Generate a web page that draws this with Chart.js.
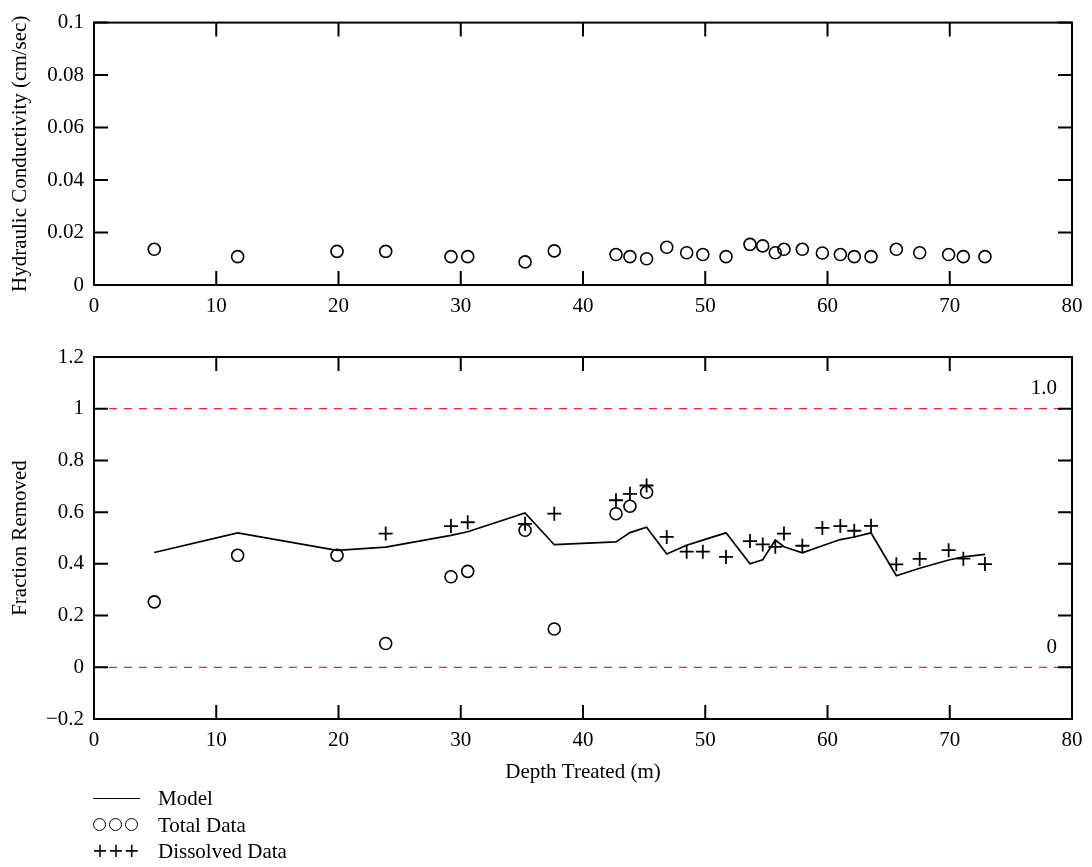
<!DOCTYPE html>
<html>
<head>
<meta charset="utf-8">
<script src="https://cdn.jsdelivr.net/npm/chart.js@4.4.1/dist/chart.umd.min.js"></script>
<style>
  body { margin:0; background:#fff; }
  #wrap { position:relative; width:1092px; height:867px; font-family:"Liberation Serif", serif; }
  canvas { position:absolute; left:0; }
  #cTop { top:0; }
  #cBot { top:330px; }
  #legend { position:absolute; left:93px; top:785px; font-size:21px; line-height:26.5px; color:#000; }
  .row { display:flex; align-items:center; height:26.5px; }
  .sym { width:65px; position:relative; height:26.5px; }
  .line { position:absolute; left:0; top:13px; width:47px; border-top:1.6px solid #000; }
  .circ { position:absolute; top:6px; width:11px; height:11px; border:1.6px solid #000; border-radius:50%; }
  .plus { position:absolute; left:-1px; top:-1px; font-family:"DejaVu Sans", sans-serif; font-size:19px; letter-spacing:0px; }
</style>
</head>
<body>
<div id="wrap">
  <canvas id="cTop" width="1092" height="330"></canvas>
  <canvas id="cBot" width="1092" height="460"></canvas>
  <div id="legend">
    <div class="row"><div class="sym"><div class="line"></div></div><span>Model</span></div>
    <div class="row"><div class="sym">
      <div class="circ" style="left:0px"></div><div class="circ" style="left:16px"></div><div class="circ" style="left:32px"></div>
    </div><span>Total Data</span></div>
    <div class="row"><div class="sym"><span class="plus">+++</span></div><span>Dissolved Data</span></div>
  </div>
</div>
<script>
// ===============================
// DADOS
// ===============================
const depth = [4.93, 11.75, 19.88, 23.86, 29.2, 30.57, 35.26, 37.65, 42.7, 43.84, 45.2,
  46.85, 48.48, 49.8, 51.7, 53.66, 54.7, 55.73, 56.44, 57.94, 59.58, 61.05, 62.19, 63.56,
  65.63, 67.54, 69.91, 71.11, 72.88];

const hydCond = [0.0136, 0.0108, 0.0128, 0.0128, 0.0108, 0.0108, 0.0088, 0.0130, 0.0116, 0.0108, 0.0100,
  0.0144, 0.0123, 0.0116, 0.0108, 0.0155, 0.0149, 0.0123, 0.0136, 0.0136, 0.0122, 0.0116, 0.0108, 0.0108,
  0.0136, 0.0123, 0.0116, 0.0108, 0.0108];

const model = [0.444, 0.520, 0.452, 0.465, 0.510, 0.524, 0.597, 0.474, 0.485, 0.521, 0.542,
  0.438, 0.472, 0.492, 0.520, 0.400, 0.416, 0.492, 0.466, 0.443, 0.470, 0.494, 0.504, 0.520,
  0.354, 0.383, 0.415, 0.427, 0.437];

const totalData = [0.253, 0.433, 0.433, 0.092, 0.350, 0.371, 0.530, 0.148, 0.594, 0.623, 0.677,
  null, null, null, null, null, null, null, null, null, null, null, null, null,
  null, null, null, null, null];

const dissolvedData = [null, null, null, 0.517, 0.546, 0.561, 0.555, 0.594, 0.646, 0.671, 0.703,
  0.504, 0.447, 0.447, 0.427, 0.488, 0.475, 0.466, 0.517, 0.470, 0.539, 0.546, 0.528, 0.547,
  0.398, 0.419, 0.453, 0.420, 0.399];

const refLines = [0, 1];
const refLabels = ["0", "1.0"];
const xRange = [0, 80];

// ===============================
// AUXILIARES
// ===============================
const FONT = "Liberation Serif";

function pontos(arr){
  return depth.map((x,i) => ({x, y: arr[i]})).filter(p => p.y !== null);
}

function rotulo(v){
  const s = String(Number(v.toFixed(3)));
  return v < -1e-9 ? "\u2212" + s.replace("-", "") : s;
}

// moldura + ticks para dentro nos quatro lados
const moldura = {
  id: "moldura",
  afterDraw(chart){
    const {ctx, chartArea:a, scales:{x, y}} = chart;
    const L = 14;
    ctx.save();
    ctx.strokeStyle = "#000";
    ctx.lineWidth = 2;
    ctx.strokeRect(a.left, a.top, a.right - a.left, a.bottom - a.top);
    ctx.beginPath();
    x.ticks.forEach(t => {
      const px = x.getPixelForValue(t.value);
      ctx.moveTo(px, a.bottom); ctx.lineTo(px, a.bottom - L);
      ctx.moveTo(px, a.top); ctx.lineTo(px, a.top + L);
    });
    y.ticks.forEach(t => {
      const py = y.getPixelForValue(t.value);
      ctx.moveTo(a.left, py); ctx.lineTo(a.left + L, py);
      ctx.moveTo(a.right, py); ctx.lineTo(a.right - L, py);
    });
    ctx.stroke();

    const rl = chart.options.plugins.moldura;
    if(rl && rl.labels){
      ctx.fillStyle = "#000";
      ctx.font = "21px '" + FONT + "'";
      ctx.textAlign = "right";
      ctx.textBaseline = "middle";
      rl.values.forEach((v,i) => {
        ctx.fillText(rl.labels[i], a.right - 15, y.getPixelForValue(v) - 20);
      });
    }
    ctx.restore();
  }
};

function eixoX(titulo){
  return {
    type: "linear", min: xRange[0], max: xRange[1],
    grid: {display:false, drawTicks:false}, border: {display:false},
    ticks: {stepSize:10, padding:9, color:"#000", font:{family:FONT, size:21}},
    title: titulo ? {display:true, text:titulo, color:"#000", font:{family:FONT, size:21}, padding:{top:0, bottom:5}} : {display:false},
    afterFit: s => { s.height = titulo ? 71 : 45; }
  };
}

function eixoY(titulo, min, max, passo){
  return {
    type: "linear", min, max,
    grid: {display:false, drawTicks:false}, border: {display:false},
    ticks: {stepSize:passo, padding:10, color:"#000", font:{family:FONT, size:21}, callback: v => rotulo(v)},
    title: {display:true, text:titulo, color:"#000", font:{family:FONT, size:21}, padding:{top:8, bottom:0}},
    afterFit: s => { s.width = 94; }
  };
}

const circulo = {
  showLine:false, pointStyle:"circle", pointRadius:6, pointHoverRadius:6,
  borderColor:"#000", backgroundColor:"rgba(0,0,0,0)", pointBorderWidth:1.6
};

// ===============================
// GRÁFICO SUPERIOR
// ===============================
new Chart(document.getElementById("cTop"), {
  type: "scatter",
  data: {
    datasets: [Object.assign({label:"Total Data", data: pontos(hydCond)}, circulo)]
  },
  options: {
    responsive:false, animation:false, devicePixelRatio:1,
    layout: {padding:{left:0, right:20, top:22, bottom:0}},
    plugins: {legend:{display:false}, tooltip:{enabled:false}},
    scales: {
      x: eixoX(null),
      y: eixoY("Hydraulic Conductivity (cm/sec)", 0, 0.1, 0.02)
    }
  },
  plugins: [moldura]
});

// ===============================
// GRÁFICO INFERIOR
// ===============================
const linhasRef = refLines.map(v => ({
  label: "ref" + v,
  data: xRange.map(x => ({x, y: v})),
  showLine:true, pointRadius:0, borderColor:"#ff2020", borderWidth:1.2,
  borderDash:[8,7]
}));

new Chart(document.getElementById("cBot"), {
  type: "scatter",
  data: {
    datasets: [
      ...linhasRef,
      {label:"Model", data: pontos(model), showLine:true, pointRadius:0, borderColor:"#000", borderWidth:1.7, tension:0},
      Object.assign({label:"Total Data", data: pontos(totalData)}, circulo),
      {label:"Dissolved Data", data: pontos(dissolvedData), showLine:false, pointStyle:"cross",
        pointRadius:7, pointHoverRadius:7, borderColor:"#000", pointBorderWidth:1.8}
    ]
  },
  options: {
    responsive:false, animation:false, devicePixelRatio:1,
    layout: {padding:{left:0, right:20, top:27, bottom:0}},
    plugins: {
      legend:{display:false}, tooltip:{enabled:false},
      moldura: {values: refLines, labels: refLabels}
    },
    scales: {
      x: eixoX("Depth Treated (m)"),
      y: eixoY("Fraction Removed", -0.2, 1.2, 0.2)
    }
  },
  plugins: [moldura]
});
</script>
</body>
</html>
